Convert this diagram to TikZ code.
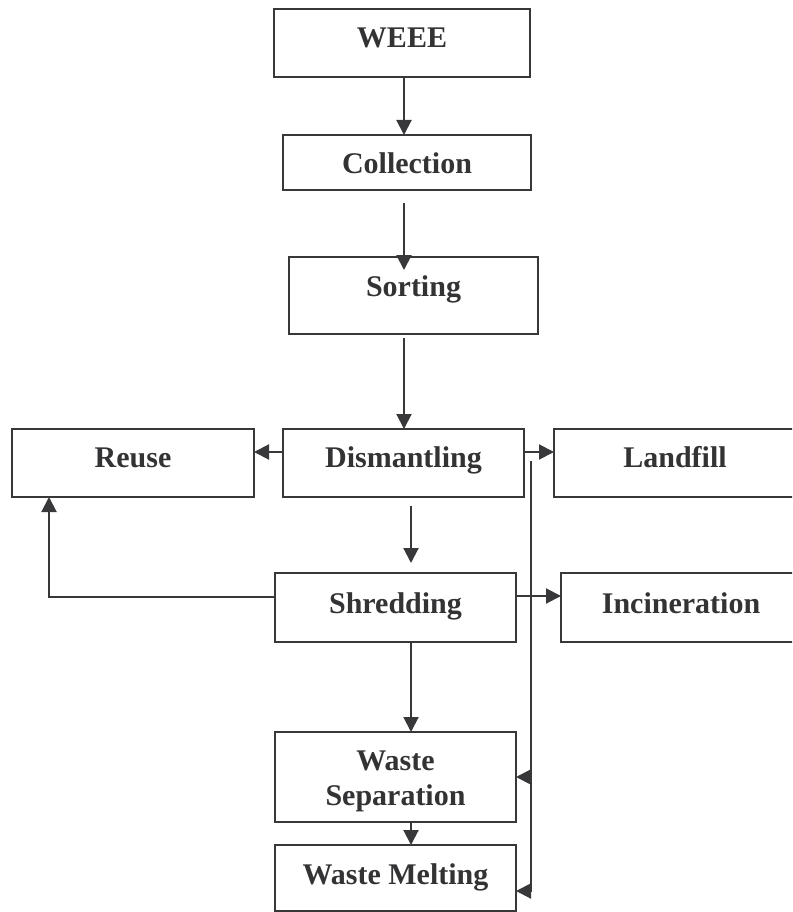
\documentclass[tikz,border=0pt]{standalone}
\usepackage{fontspec}
\setmainfont{Liberation Serif}
\usetikzlibrary{arrows.meta}
\definecolor{ink}{HTML}{38383A}
\definecolor{txt}{HTML}{333335}
\newcommand\bt[2]{\raisebox{#1pt}[0pt][0pt]{#2}}
\begin{document}
\begin{tikzpicture}[x=1pt,y=-1pt,
  box/.style={draw=ink, line width=2pt, rectangle, inner sep=0pt, outer sep=0pt,
    text=txt, font=\fontsize{30}{35}\selectfont\bfseries},
  arr/.style={draw=ink, line width=2pt, -{Triangle[length=15pt,width=15pt]}},
  ln/.style={draw=ink, line width=2.2pt}]
\useasboundingbox (0,0) rectangle (792,912);
\clip (0,0) rectangle (792,912);

% boxes
\node[box, minimum width=256pt, minimum height=68pt] (weee) at (402,43) {\bt{-5}{WEEE}};
\node[box, minimum width=248pt, minimum height=55pt] (collection) at (407,162.5) {\bt{-11.5}{Collection}};
\node[box, minimum width=249pt, minimum height=77pt] (sorting) at (413.5,295.5) {\bt{-0.5}{Sorting}};
\node[box, minimum width=241pt, minimum height=68pt] (dismantling) at (403.5,463) {\bt{-4}{Dismantling}};
\node[box, minimum width=242pt, minimum height=68pt] (reuse) at (133,463) {\bt{-4}{Reuse}};
\node[box, minimum width=242pt, minimum height=68pt] (landfill) at (675,463) {\bt{-4}{Landfill}};
\node[box, minimum width=241pt, minimum height=69pt] (shredding) at (395.5,607.5) {\bt{-5.5}{Shredding}};
\node[box, minimum width=240pt, minimum height=69pt] (incineration) at (681,607.5) {\bt{-5.5}{Incineration}};
\node[box, minimum width=241pt, minimum height=90pt] (wsep) at (395.5,777) {\bt{-28}{\vbox{\baselineskip=35pt\hbox to 0pt{\hss Waste\hss}\hbox to 0pt{\hss Separation\hss}}}};
\node[box, minimum width=241pt, minimum height=66pt] (wmelt) at (395.5,878) {\bt{-6}{Waste Melting}};

% helper coordinates
\coordinate (xa) at (404,0);
\coordinate (xb) at (411,0);
\coordinate (xl) at (49,0);
\coordinate (colOut) at (404,203);
\coordinate (sortIn) at (404,270);
\coordinate (sortOut) at (404,338);
\coordinate (disOut) at (411,506);
\coordinate (shrIn) at (411,563);
\coordinate (y452) at (0,452);
\coordinate (y596) at (0,596);
\coordinate (y597) at (0,597);
\coordinate (vTop) at (531,461);
\coordinate (vWs) at (531,777);
\coordinate (vWm) at (531,891);
\coordinate (vBot) at (531,892);

% connectors
\draw[arr] (weee.south -| xa) -- (collection.north -| xa);
\draw[arr] (colOut) -- (sortIn);
\draw[arr] (sortOut) -- (dismantling.north -| xa);
\draw[arr] (dismantling.west |- y452) -- (reuse.east |- y452);
\draw[arr] (dismantling.east |- y452) -- (landfill.west |- y452);
\draw[arr] (disOut) -- (shrIn);
\draw[arr] (shredding.east |- y596) -- (incineration.west |- y596);
\draw[arr] (shredding.west |- y597) -| (reuse.south -| xl);
\draw[arr] (shredding.south -| xb) -- (wsep.north -| xb);
\draw[arr] (wsep.south -| xb) -- (wmelt.north -| xb);
\draw[ln] (vTop) -- (vBot);
\draw[arr] (vWs) -- (wsep.east |- vWs);
\draw[arr] (vWm) -- (wmelt.east |- vWm);
\end{tikzpicture}
\end{document}
